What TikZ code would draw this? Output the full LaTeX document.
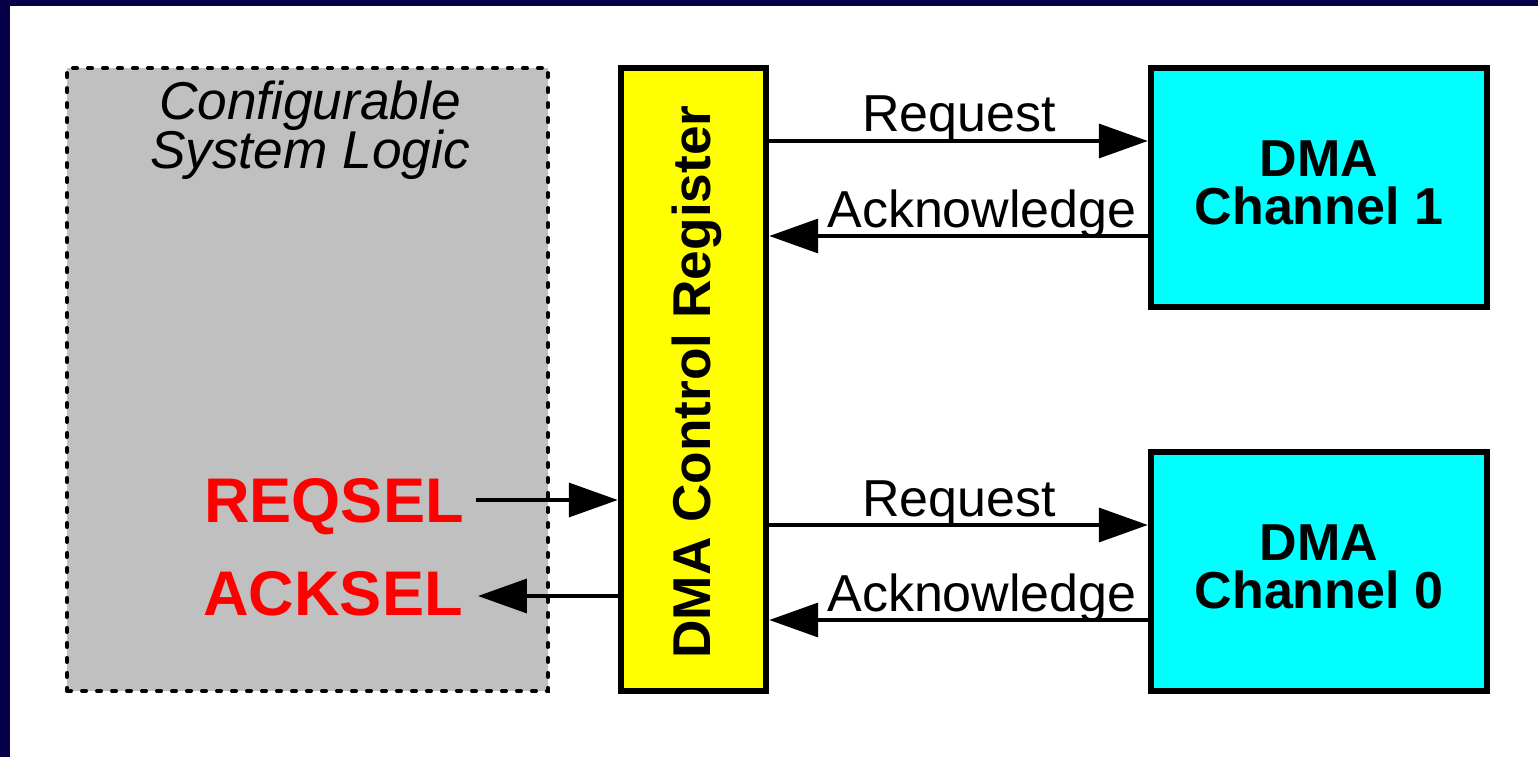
\documentclass[tikz,border=0pt]{standalone}
\usepackage{fontspec}
\setmainfont{Liberation Sans}
\usetikzlibrary{arrows.meta}
\definecolor{frame}{RGB}{6,0,72}
\definecolor{panel}{RGB}{192,192,192}
\definecolor{chan}{RGB}{0,255,255}
\definecolor{regfill}{RGB}{255,255,0}
\definecolor{selred}{RGB}{255,0,0}

\begin{document}
\begin{tikzpicture}[x=0.02cm,y=-0.02cm,
  box/.style={draw=black, line width=0.13cm, inner sep=0, outer sep=0.065cm},
  logic/.style={draw=black, fill=panel, line width=0.08cm, line cap=round,
    dash pattern=on 0.08cm off 0.22cm, inner sep=0, outer sep=0},
  sig/.style={line width=0.07cm, -{Triangle[length=0.98cm,width=0.68cm]}},
  lbl/.style={font=\fontsize{29.6}{34}\selectfont, inner sep=0, anchor=base},
  title/.style={font=\fontsize{30.3}{34}\selectfont\itshape, inner sep=0, anchor=base},
  chtext/.style={font=\fontsize{29.6}{34}\selectfont\bfseries, inner sep=0, anchor=base},
  sel/.style={font=\fontsize{35.9}{40}\selectfont\bfseries, text=selred, inner sep=0, anchor=base east},
]
% page frame
\fill[frame] (0,0) rectangle (1538,757);
\fill[white] (10,6) rectangle (1538,757);

% configurable logic panel
\node[logic, minimum width=9.62cm, minimum height=12.46cm] (csl) at (307.5,379.5) {};
\node[title] (t1) at (310,119) {Configurable};
\node[title] (t2) at (310,168) {System Logic};

% control register
\node[box, fill=regfill, minimum width=2.9cm, minimum height=12.46cm] (reg) at (693.5,379.5) {};
\node[font=\fontsize{30.3}{34}\selectfont\bfseries, inner sep=0, anchor=base, rotate=90] (regtxt) at (710,382) {DMA Control Register};

% DMA channels
\node[box, fill=chan, minimum width=6.72cm, minimum height=4.78cm] (ch1) at (1319,187.5) {};
\node[chtext] (c1a) at (1319,176) {DMA};
\node[chtext] (c1b) at (1319,224) {Channel 1};
\node[box, fill=chan, minimum width=6.72cm, minimum height=4.78cm] (ch0) at (1319,571.5) {};
\node[chtext] (c0a) at (1319,560) {DMA};
\node[chtext] (c0b) at (1319,608) {Channel 0};

% handshake signals
\draw[sig] (reg.east |- 0,141) -- (ch1.west |- 0,141);
\draw[sig] (ch1.west |- 0,236) -- (reg.east |- 0,236);
\draw[sig] (reg.east |- 0,525) -- (ch0.west |- 0,525);
\draw[sig] (ch0.west |- 0,620) -- (reg.east |- 0,620);
\node[lbl] (rq1) at (959,132) {Request};
\node[lbl] (ak1) at (982,227) {Acknowledge};
\node[lbl] (rq0) at (959,516) {Request};
\node[lbl] (ak0) at (982,611) {Acknowledge};

% select lines
\node[sel] (reqsel) at (464,522) {REQSEL};
\node[sel] (acksel) at (463,615) {ACKSEL};
\coordinate (rqs) at (476,500);
\coordinate (aks) at (478,596);
\draw[sig] (rqs) -- (reg.west |- rqs);
\draw[sig] (reg.west |- aks) -- (aks);
\end{tikzpicture}
\end{document}
